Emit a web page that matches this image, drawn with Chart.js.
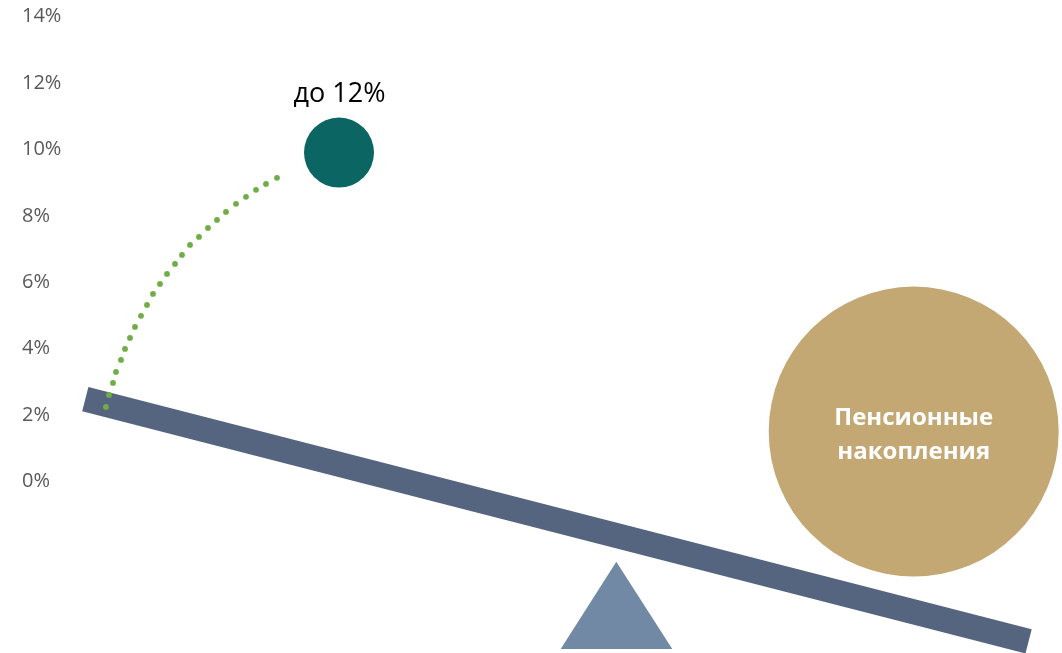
<!DOCTYPE html>
<html>
<head>
<meta charset="utf-8">
<script src="https://cdn.jsdelivr.net/npm/chart.js@4/dist/chart.umd.min.js"></script>
<style>
html,body{margin:0;padding:0;background:#ffffff;overflow:hidden}
#wrap{position:relative;width:1062px;height:653px}
</style>
</head>
<body>
<div id="wrap"><canvas id="c"></canvas></div>
<script>
// ---- data ----
const yTickValues = [0, 2, 4, 6, 8, 10, 12, 14];
const yTickLabels = ['0%', '2%', '4%', '6%', '8%', '10%', '12%', '14%'];

// seesaw beam (two end points)
const beamPoints = [{x: 85.3, y: 2.484}, {x: 1028.6, y: -4.809}];
// fulcrum triangle (apex, base left, base right, back to apex)
const fulcrumPoints = [{x: 616.3, y: -2.409}, {x: 560.7, y: -5.038}, {x: 672.3, y: -5.038}, {x: 616.3, y: -2.409}];
// small ball "до 12%"
const returnBall = [{x: 339, y: 9.907}];
// big ball "Пенсионные накопления"
const savingsBall = [{x: 913.7, y: 1.506}];
// dotted arc path
const arcX = [106, 109, 113, 116, 121, 125, 130, 135, 141, 147, 153, 160, 167, 175, 182, 190, 199, 208, 217, 226, 236, 246, 256, 266, 277];
const arcY = [2.249, 2.611, 2.972, 3.303, 3.665, 3.996, 4.327, 4.658, 4.990, 5.321, 5.652, 5.953, 6.254, 6.555, 6.826, 7.127, 7.368, 7.639, 7.880, 8.121, 8.362, 8.573, 8.784, 8.964, 9.145];

// text labels (data coordinates)
const labelTexts = ['до 12%', 'Пенсионные', 'накопления'];
const labelX = [339.5, 913.7, 913.7];
const labelY = [11.43, 1.707, 0.668];

// ---- chart ----
const arcPoints = arcX.map((x, i) => ({x: x, y: arcY[i]}));

const textPlugin = {
  id: 'texts',
  afterDatasetsDraw(chart) {
    const ctx = chart.ctx;
    const xs = chart.scales.x, ys = chart.scales.y;
    const styles = [
      {font: '27px "Open Sans"', color: '#000000'},
      {font: 'bold 24px "Open Sans"', color: '#ffffff'},
      {font: 'bold 24px "Open Sans"', color: '#ffffff'}
    ];
    ctx.save();
    ctx.textAlign = 'center';
    ctx.textBaseline = 'alphabetic';
    labelTexts.forEach((t, i) => {
      ctx.font = styles[i].font;
      ctx.fillStyle = styles[i].color;
      ctx.fillText(t, xs.getPixelForValue(labelX[i]), ys.getPixelForValue(labelY[i]));
    });
    ctx.restore();
  }
};

new Chart(document.getElementById('c'), {
  type: 'scatter',
  data: {
    datasets: [
      {
        label: 'arc',
        data: arcPoints,
        pointRadius: 2.9,
        pointBackgroundColor: '#70AD47',
        pointBorderWidth: 0,
        showLine: false,
        order: 0,
        clip: false
      },
      {
        label: 'return',
        data: returnBall,
        pointRadius: 35,
        pointBackgroundColor: '#0B6663',
        pointBorderWidth: 0,
        order: 1,
        clip: false
      },
      {
        label: 'savings',
        data: savingsBall,
        pointRadius: 145,
        pointBackgroundColor: '#C4A874',
        pointBorderWidth: 0,
        order: 2,
        clip: false
      },
      {
        label: 'beam',
        data: beamPoints,
        showLine: true,
        borderColor: '#55657F',
        borderWidth: 25,
        borderCapStyle: 'butt',
        pointRadius: 0,
        fill: false,
        order: 3,
        clip: false
      },
      {
        label: 'fulcrum',
        data: fulcrumPoints,
        showLine: true,
        borderColor: '#7189A4',
        borderWidth: 0,
        backgroundColor: '#7189A4',
        fill: 'shape',
        tension: 0,
        pointRadius: 0,
        order: 4,
        clip: false
      }
    ]
  },
  options: {
    responsive: true,
    maintainAspectRatio: false,
    animation: false,
    events: [],
    layout: {autoPadding: false, padding: {left: 22, right: 0, top: 0, bottom: 0}},
    plugins: {
      legend: {display: false},
      tooltip: {enabled: false}
    },
    scales: {
      x: {
        type: 'linear',
        min: 70,
        max: 1062,
        display: false
      },
      y: {
        type: 'linear',
        position: 'left',
        min: -5.16,
        max: 14.5,
        grid: {display: false},
        border: {display: false},
        afterBuildTicks: (s) => { s.ticks = yTickValues.map(v => ({value: v})); },
        afterFit: (s) => { s.width = 48; s.paddingTop = 0; s.paddingBottom = 0; },
        ticks: {
          color: '#595959',
          font: {family: '"Open Sans"', size: 20},
          crossAlign: 'far',
          padding: 0,
          callback: (v) => { const i = yTickValues.indexOf(v); return i >= 0 ? yTickLabels[i] : ''; }
        }
      }
    }
  },
  plugins: [textPlugin]
});
</script>
</body>
</html>
